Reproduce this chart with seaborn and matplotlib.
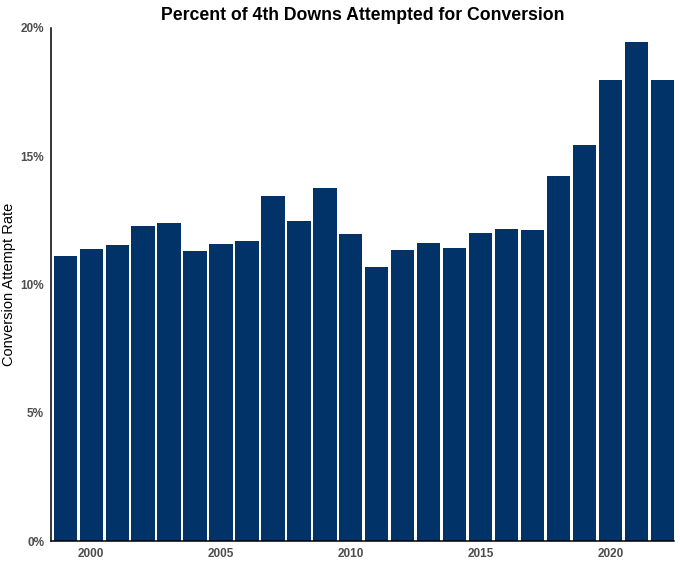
import matplotlib
matplotlib.use("Agg")
import matplotlib.pyplot as plt
import seaborn as sns
from matplotlib.ticker import PercentFormatter

years = list(range(1999, 2023))
attempt_rate = [0.1112, 0.1140, 0.1153, 0.1228, 0.1239, 0.1129, 0.1157, 0.1171,
                0.1344, 0.1249, 0.1378, 0.1196, 0.1067, 0.1136, 0.1162, 0.1141,
                0.1200, 0.1215, 0.1212, 0.1424, 0.1543, 0.1796, 0.1944, 0.1796]

sns.set_style("white")
plt.rcParams['font.family'] = ['Liberation Sans', 'DejaVu Sans']

fig = plt.figure(figsize=(6.8, 5.67), dpi=100)
ax = fig.add_axes([51 / 680, 1 - 541 / 567, (674 - 51) / 680, (541 - 28) / 567])

sns.barplot(x=years, y=attempt_rate, native_scale=True, width=0.9,
            color="#013369", saturation=1, edgecolor="none", ax=ax)

ax.set_xlim(1998.45, 2022.45)
ax.set_ylim(0, 0.20)
ax.set_xticks([2000, 2005, 2010, 2015, 2020])
ax.set_yticks([0, 0.05, 0.10, 0.15, 0.20])
ax.yaxis.set_major_formatter(PercentFormatter(1.0, decimals=0))

sns.despine(ax=ax)
for s in ["left", "bottom"]:
    ax.spines[s].set_color("black")
    ax.spines[s].set_linewidth(1.1)

ax.tick_params(axis="both", length=3, width=0.8, color="#333333",
               labelsize=8.5, labelcolor="#4d4d4d", pad=2)
for lbl in ax.get_xticklabels() + ax.get_yticklabels():
    lbl.set_fontweight("bold")

ax.set_xlabel("")
ax.set_ylabel("Conversion Attempt Rate", fontsize=10.5, color="black", labelpad=3)
ax.set_title("Percent of 4th Downs Attempted for Conversion",
             fontsize=12.7, fontweight="bold", color="black", pad=6)

fig.savefig("out.png", dpi=100)
